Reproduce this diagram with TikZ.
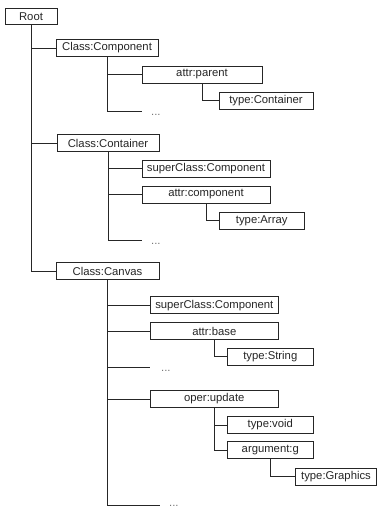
\documentclass[tikz,border=0pt]{standalone}
\usepackage{fontspec}
\setmainfont{Liberation Sans}

\begin{document}
\begin{tikzpicture}[x=1pt, y=-1pt,
  every node/.style = {font=\fontsize{11.3}{13}\selectfont, text=black!85},
  box/.style = {shape=rectangle, draw=black!85, line width=0.8pt,
    fill=white, inner sep=0pt, minimum height=17pt},
  more/.style = {text=black!55, inner sep=0pt, anchor=west},
  link/.style = {draw=black!85, line width=0.8pt}]
  \useasboundingbox (0,0) rectangle (380,509);

  % top level
  \node[box, minimum width=52pt, minimum height=15.5pt] (root) at (31,16.5) {Root};

  % Component
  \node[box, minimum width=102pt] (comp) at (107,48) {Class:Component};
  \node[box, minimum width=120pt] (parent) at (202,74.5) {attr:parent};
  \node[box, minimum width=94pt] (tcont) at (266,100.5) {type:Container};
  \coordinate (more1) at (142,111.7);
  \node[more] (dots1) at (151,114.5) {...};

  % Container
  \node[box, minimum width=102pt] (cont) at (108,143) {Class:Container};
  \node[box, minimum width=128pt] (super1) at (206,168.5) {superClass:Component};
  \node[box, minimum width=128pt] (acomp) at (206,194.5) {attr:component};
  \node[box, minimum width=85pt] (tarray) at (261.7,220.5) {type:Array};
  \coordinate (more2) at (142,240.7);
  \node[more] (dots2) at (151,243.5) {...};

  % Canvas
  \node[box, minimum width=103pt] (canvas) at (107.5,271) {Class:Canvas};
  \node[box, minimum width=128.7pt] (super2) at (214.3,305.3) {superClass:Component};
  \node[box, minimum width=128.7pt] (abase) at (214.3,331) {attr:base};
  \node[box, minimum width=86pt] (tstring) at (270.3,356.5) {type:String};
  \coordinate (more3) at (150,367.7);
  \node[more] (dots3) at (161,371) {...};
  \node[box, minimum width=128.7pt] (update) at (214.3,399) {oper:update};
  \node[box, minimum width=86pt] (tvoid) at (270.3,425) {type:void};
  \node[box, minimum width=86pt] (argg) at (270.3,450.3) {argument:g};
  \node[box, minimum width=80.5pt] (tgraph) at (336,476.7) {type:Graphics};
  \coordinate (more4) at (159.5,505.2);
  \node[more] (dots4) at (169,506.3) {...};

  % elbow connectors
  \draw[link] (root.south) |- (comp.west);
  \draw[link] (root.south) |- (cont.west);
  \draw[link] (root.south) |- (canvas.west);

  \draw[link] (comp.south) |- (parent.west);
  \draw[link] (comp.south) |- (more1);
  \draw[link] (parent.south) |- (tcont.west);

  \draw[link] (cont.south) |- (super1.west);
  \draw[link] (cont.south) |- (acomp.west);
  \draw[link] (cont.south) |- (more2);
  \draw[link] (acomp.south) |- (tarray.west);

  \draw[link] (canvas.south) |- (super2.west);
  \draw[link] (canvas.south) |- (abase.west);
  \draw[link] (canvas.south) |- (more3);
  \draw[link] (canvas.south) |- (update.west);
  \draw[link] (canvas.south) |- (more4);
  \draw[link] (abase.south) |- (tstring.west);
  \draw[link] (update.south) |- (tvoid.west);
  \draw[link] (update.south) |- (argg.west);
  \draw[link] (argg.south) |- (tgraph.west);
\end{tikzpicture}
\end{document}
